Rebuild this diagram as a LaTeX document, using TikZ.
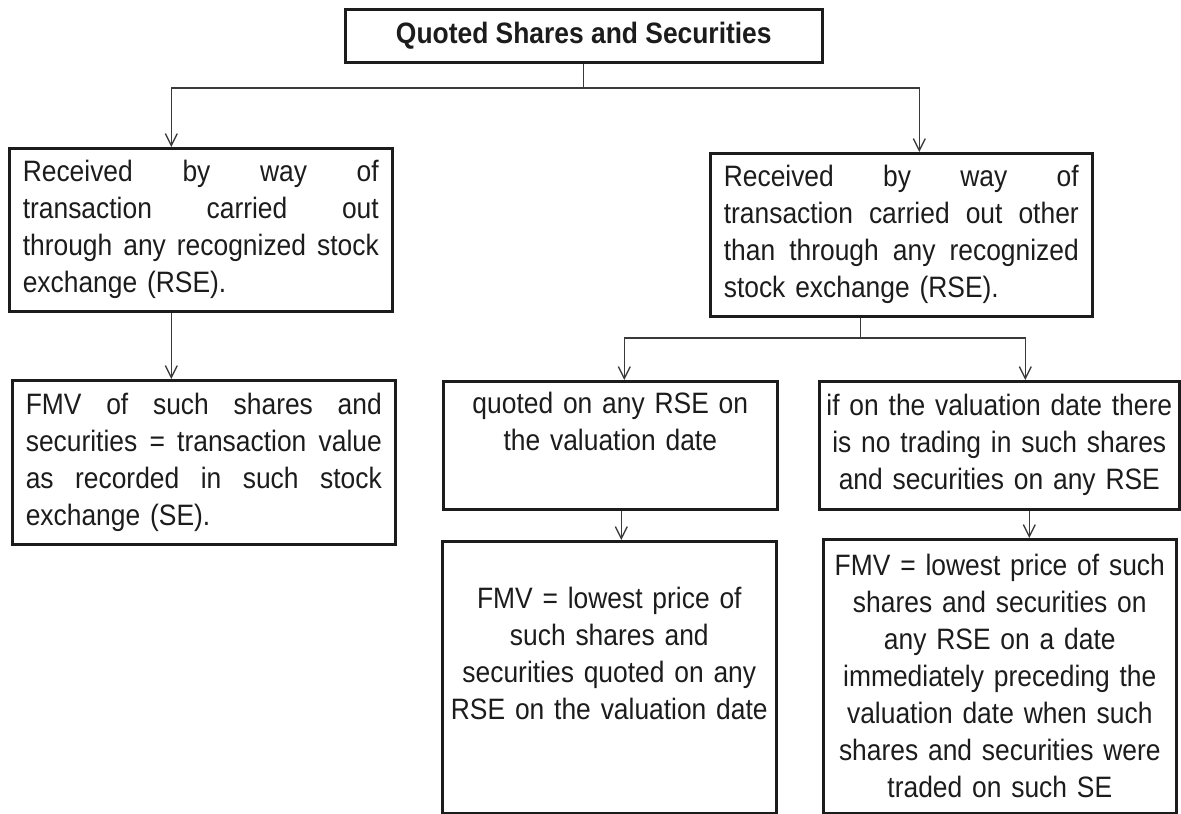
\documentclass[tikz,border=0pt]{standalone}
\usepackage{fontspec}
\setmainfont{Liberation Sans}[FakeStretch=0.895]
\usetikzlibrary{arrows.meta}
\definecolor{ink}{HTML}{1C1C1C}
\definecolor{wire}{HTML}{3A3A3A}
\newcommand{\jl}[2]{{\spaceskip=0pt\xspaceskip=0pt\makebox[#1][s]{#2}}}
\tikzset{
  box/.style={draw=ink, line width=2.6pt, text=ink, inner ysep=0pt, anchor=north west,
    font=\fontsize{29.5}{37}\selectfont},
  conn/.style={draw=wire, line width=1.3pt},
  arr/.style={conn, -{Straight Barb[length=12pt,width=12pt,line width=1.3pt]}},
}
\begin{document}
\begin{tikzpicture}[x=1pt,y=-1pt]
\useasboundingbox (0,0) rectangle (1181,814);

% top
\node[box, minimum width=477pt, minimum height=53pt, font=\fontsize{29.5}{37}\selectfont\bfseries] (top) at (344,8) {Quoted Shares and Securities};

% level 1
\node[box, text width=356pt, inner xsep=13.5pt, minimum height=163pt, align=left] (L1) at (8,147)
 {\jl{356pt}{Received by way of}\\\jl{356pt}{transaction carried out}\\\jl{356pt}{through any recognized stock}\\exchange (RSE).};
\node[box, text width=355pt, inner xsep=13.5pt, minimum height=163pt, align=left] (R1) at (709,152)
 {\jl{355pt}{Received by way of}\\\jl{355pt}{transaction carried out other}\\\jl{355pt}{than through any recognized}\\stock exchange (RSE).};

% level 2
\node[box, text width=356pt, inner xsep=13.5pt, minimum height=164pt, align=left] (L2) at (11,379)
 {\jl{356pt}{FMV of such shares and}\\\jl{356pt}{securities = transaction value}\\\jl{356pt}{as recorded in such stock}\\exchange (SE).};
\node[box, text width=324pt, inner xsep=5pt, minimum height=128pt, align=center] (Q) at (442,380)
 {quoted on any RSE on\\the valuation date\\\strut};
\node[box, text width=350pt, inner xsep=5pt, minimum height=128pt, align=center] (IF) at (818,380)
 {\mbox{if on the valuation date there}\\\mbox{is no trading in such shares}\\\mbox{and securities on any RSE}};

% level 3
\node[box, text width=324pt, inner xsep=5pt, minimum height=272pt, align=center] (F1) at (441,540)
 {FMV = lowest price of\\such shares and\\securities quoted on any\\RSE on the valuation date\\\strut};
\node[box, text width=343pt, inner xsep=5pt, minimum height=274pt, align=center] (F2) at (822,538)
 {FMV = lowest price of such\\shares and securities on\\any RSE on a date\\immediately preceding the\\valuation date when such\\shares and securities were\\traded on such SE};

% connectors
\coordinate (j1) at (top.south |- 0,88);
\draw[conn] (top.south) -- (j1);
\draw[arr] (j1) -| ([xshift=-29.5pt]L1.north);
\draw[arr] (j1) -| ([xshift=18pt]R1.north);
\draw[arr] ([xshift=-29.5pt]L1.south) -- ([xshift=-29.5pt]L1.south |- L2.north);

\coordinate (j2) at ([xshift=-41pt]R1.south |- 0,338);
\draw[conn] ([xshift=-41pt]R1.south) -- (j2);
\draw[arr] (j2) -| ([xshift=14pt]Q.north);
\draw[arr] (j2) -| ([xshift=26pt]IF.north);
\draw[arr] ([xshift=11pt]Q.south) -- ([xshift=11pt]Q.south |- F1.north);
\draw[arr] ([xshift=30pt]IF.south) -- ([xshift=30pt]IF.south |- F2.north);
\end{tikzpicture}
\end{document}
